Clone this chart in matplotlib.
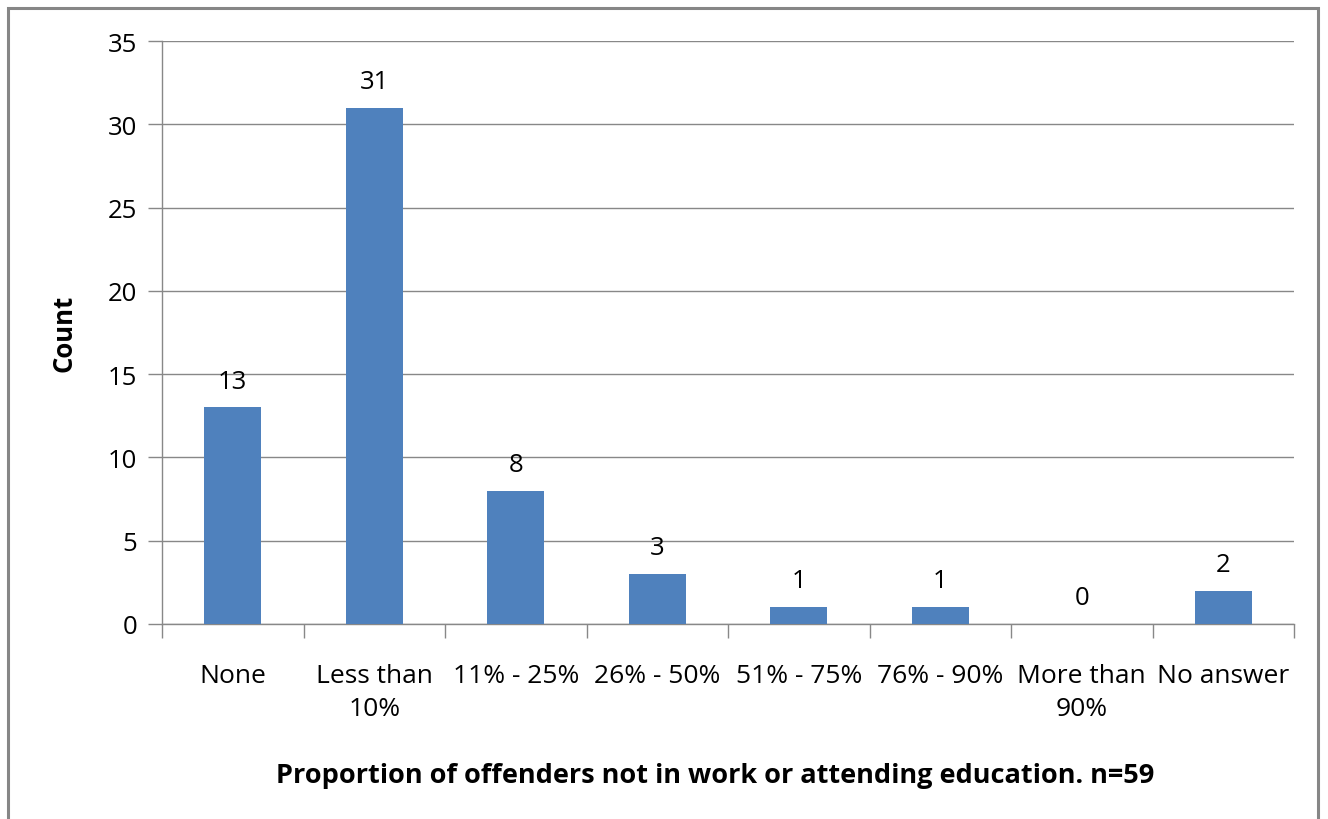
import matplotlib
matplotlib.use("Agg")
import matplotlib.pyplot as plt
from matplotlib.patches import Rectangle

categories = ["None", "Less than\n10%", "11% - 25%", "26% - 50%", "51% - 75%",
              "76% - 90%", "More than\n90%", "No answer"]
counts = [13, 31, 8, 3, 1, 1, 0, 2]
y_ticks = [0, 5, 10, 15, 20, 25, 30, 35]

plt.rcParams["font.family"] = ["Open Sans", "DejaVu Sans"]

fig = plt.figure(figsize=(13.28, 8.2), dpi=100)
W, H = 1328, 820
ax = fig.add_axes([162 / W, 1 - 625 / H, (1294 - 162) / W, (625 - 42) / H])

# chart frame
fig.patches.append(Rectangle((8 / W, -0.01), (1318 - 8) / W, 1 - 9 / H + 0.01,
                             transform=fig.transFigure, fill=False,
                             edgecolor="#868686", linewidth=2.2))

x = list(range(len(categories)))
bars = ax.bar(x, counts, width=0.4, color="#4F81BD", zorder=3)

ax.set_xlim(-0.5, len(categories) - 0.5)
ax.set_ylim(0, 35)
ax.set_yticks(y_ticks)
ax.set_yticklabels([str(v) for v in y_ticks], fontsize=18.5)
ax.yaxis.grid(True, color="#888888", linewidth=1.0, zorder=0)
ax.set_axisbelow(True)

ax.set_xticks([i - 0.5 for i in range(len(categories) + 1)], minor=False)
ax.set_xticklabels([])
ax.set_xticks(x, minor=True)
ax.set_xticklabels(categories, minor=True, fontsize=19, linespacing=1.45)
ax.tick_params(axis="x", which="major", length=10, color="#888888", width=1)
ax.tick_params(axis="x", which="minor", length=0, pad=28)
ax.tick_params(axis="y", length=10, color="#888888", width=1, pad=8)

for side in ["top", "right"]:
    ax.spines[side].set_visible(False)
for side in ["left", "bottom"]:
    ax.spines[side].set_color("#888888")
    ax.spines[side].set_linewidth(1.0)

for xi, v in zip(x, counts):
    ax.annotate(str(v), (xi, v), xytext=(0, 10), textcoords="offset points",
                ha="center", va="bottom", fontsize=18.5)

ax.set_ylabel("Count", fontsize=18.5, fontweight="bold", labelpad=22)
ax.set_xlabel("Proportion of offenders not in work or attending education. n=59",
              fontsize=19.5, fontweight="bold")
ax.xaxis.set_label_coords(0.489, -0.237)

fig.savefig("out.png", dpi=100)
